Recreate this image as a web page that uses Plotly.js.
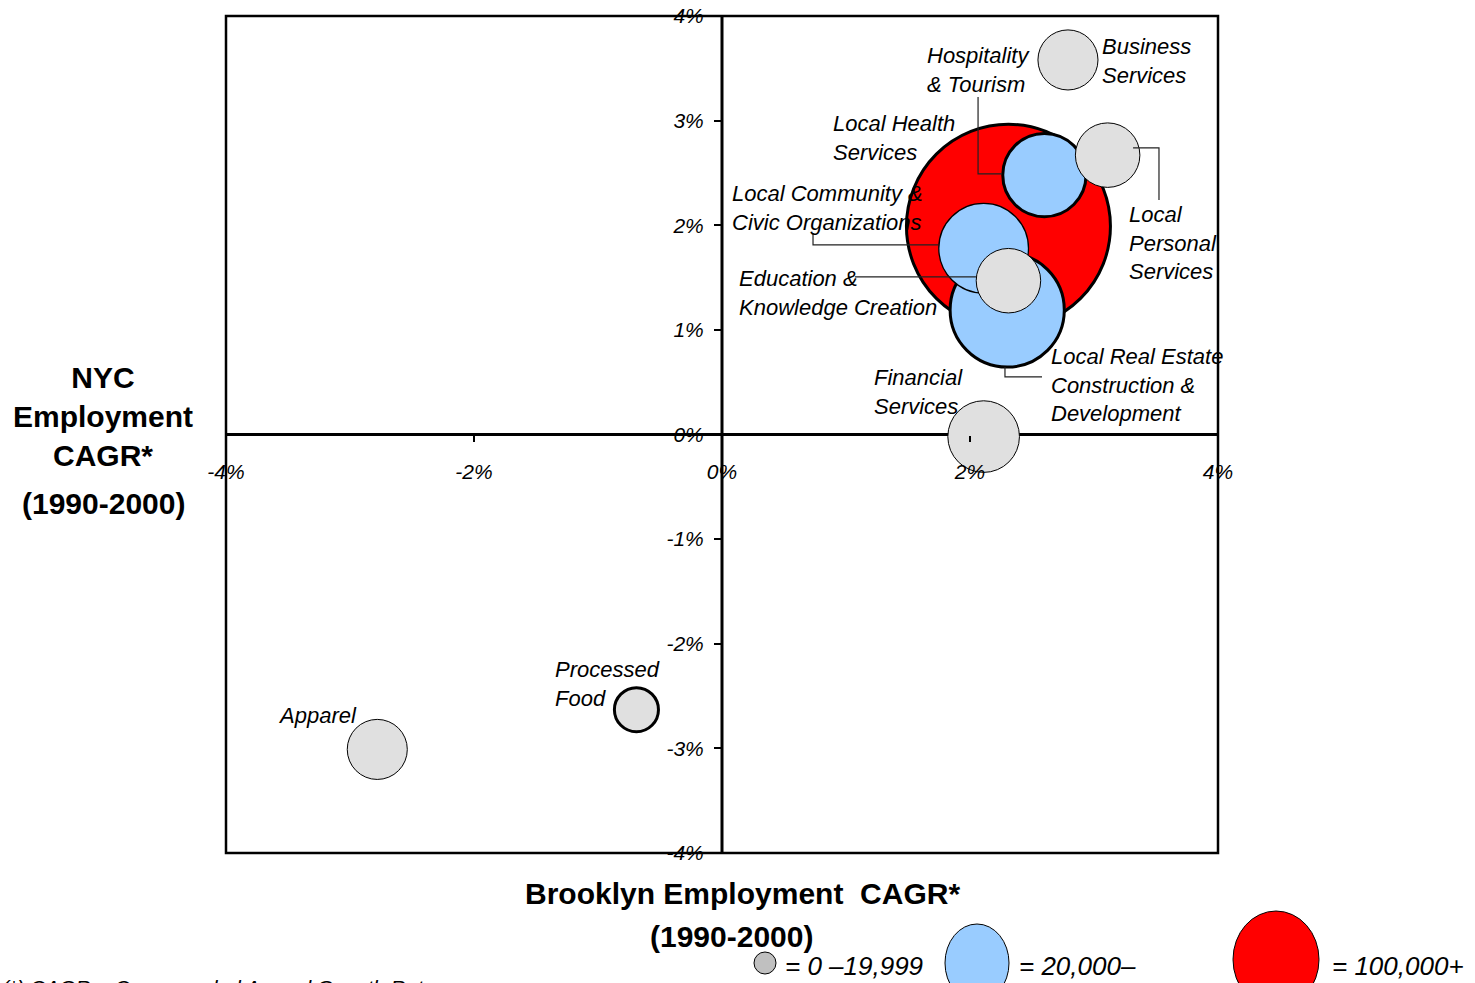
<!DOCTYPE html>
<html>
<head>
<meta charset="utf-8">
<script src="https://cdn.plot.ly/plotly-3.0.1.min.js"></script>
<style>html,body{margin:0;padding:0;background:#fff}#chart{width:1475px;height:983px}</style>
</head>
<body>
<div id="chart"></div>
<script>
// ---------------- DATA ----------------
// Industry clusters, drawn in stacking order (largest first)
var clusters = [
  'Local Health Services',
  'Local Real Estate, Construction & Development',
  'Local Community & Civic Organizations',
  'Hospitality & Tourism',
  'Business Services',
  'Local Personal Services',
  'Education & Knowledge Creation',
  'Financial Services',
  'Apparel',
  'Processed Food'
];
// Brooklyn employment CAGR 1990-2000 (%)
var brooklynCagr = [2.31, 2.30, 2.11, 2.60, 2.79, 3.11, 2.31, 2.11, -2.78, -0.69];
// NYC employment CAGR 1990-2000 (%)
var nycCagr      = [1.99, 1.19, 1.78, 2.48, 3.58, 2.67, 1.47, -0.02, -3.01, -2.63];
// Brooklyn employment
var employment   = [150000, 47000, 29000, 25000, 13000, 15000, 15000, 18500, 13000, 7000];

// Label text for each cluster
var labelText = [
  'Local Health<br>Services',
  'Local Real Estate<br>Construction &<br>Development',
  'Local Community &<br>Civic Organizations',
  'Hospitality<br>& Tourism',
  'Business<br>Services',
  'Local<br>Personal<br>Services',
  'Education &<br>Knowledge Creation',
  'Financial<br>Services',
  'Apparel',
  'Processed<br>Food'
];

// Axis ticks
var tickValues = [-4, -3, -2, -1, 0, 1, 2, 3, 4];
var yTickText  = ['-4%', '-3%', '-2%', '-1%', '0%', '1%', '2%', '3%', '4%'];
var xTickValues = [-4, -2, 0, 2, 4];
var xTickText   = ['-4%', '-2%', '0%', '2%', '4%'];

// Size classes (legend)
var sizeClassLabels = ['= 0 \u201319,999', '= 20,000\u2013', '= 100,000+'];

// ---------------- STYLE ----------------
var GRAY = '#E0E0E0', BLUE = '#99CCFF', RED = '#FF0000';
function classColor(e){ return e >= 100000 ? RED : (e >= 20000 ? BLUE : GRAY); }
var outlineWidth = [3, 3, 1.3, 3, 1, 1, 1, 1, 1, 3];

// label anchor positions (data space, left edge / vertical middle)
var labelPos = [
  [0.887, 2.83], [2.645, 0.473], [0.073, 2.161], [1.645, 3.48], [3.056, 3.571],
  [3.274, 1.831], [0.129, 1.353], [1.218, 0.402], [-3.589, -2.682], [-1.355, -2.385]
];
// leader lines (data space polylines)
var leaders = [
  [[2.065, 3.227], [2.065, 2.491], [2.258, 2.491]],
  [[3.315, 2.739], [3.524, 2.739], [3.524, 2.242]],
  [[0.734, 1.926], [0.734, 1.812], [1.742, 1.812]],
  [[1.072, 1.506], [2.048, 1.506]],
  [[2.282, 0.645], [2.282, 0.550], [2.581, 0.550]]
];

// plot area in pixels
var L = 226, R = 1218, T = 16, B = 853;
function px(x){ return (x - L) / (R - L); }
function py(y){ return (B - y) / (B - T); }

var FONT = 'Liberation Sans, Arial, Helvetica, sans-serif';

var trace = {
  type: 'scatter',
  mode: 'markers',
  x: brooklynCagr,
  y: nycCagr,
  text: clusters,
  hoverinfo: 'text',
  marker: {
    size: employment,
    sizemode: 'area',
    sizeref: 7.209,
    color: employment.map(classColor),
    opacity: 1,
    line: { color: '#000', width: outlineWidth }
  }
};

var annotations = [];
labelText.forEach(function(t, i){
  annotations.push({
    xref: 'x', yref: 'y', x: labelPos[i][0], y: labelPos[i][1],
    xanchor: 'left', yanchor: 'middle', align: 'left',
    text: t, showarrow: false, borderpad: 0,
    font: { family: FONT, size: 22, color: '#000', style: 'italic' }
  });
});

// axis titles
var titleFont = { family: FONT, size: 30, color: '#000' };
annotations.push({
  xref: 'paper', yref: 'paper', x: px(103), y: py(416), xanchor: 'center', yanchor: 'middle',
  text: '<b>NYC<br>Employment<br>CAGR*</b>', showarrow: false, font: titleFont
});
annotations.push({
  xref: 'paper', yref: 'paper', x: px(103), y: py(503), xanchor: 'center', yanchor: 'middle',
  text: '<b>(1990-2000)</b>', showarrow: false, font: titleFont
});
annotations.push({
  xref: 'paper', yref: 'paper', x: px(742), y: py(893), xanchor: 'center', yanchor: 'middle',
  text: '<b>Brooklyn Employment \u00a0CAGR*</b>', showarrow: false, font: titleFont
});
annotations.push({
  xref: 'paper', yref: 'paper', x: px(731), y: py(936), xanchor: 'center', yanchor: 'middle',
  text: '<b>(1990-2000)</b>', showarrow: false, font: titleFont
});
// footnote (partly cut off at bottom, as in the source)
annotations.push({
  xref: 'paper', yref: 'paper', x: px(0), y: py(987), xanchor: 'left', yanchor: 'middle',
  text: '(*) CAGR = Compounded Annual Growth Rate', showarrow: false,
  font: { family: FONT, size: 21, color: '#000', style: 'italic' }
});
// legend texts
var legendTextX = [784, 1018, 1331];
sizeClassLabels.forEach(function(t, i){
  annotations.push({
    xref: 'paper', yref: 'paper', x: px(legendTextX[i]), y: py(966), xanchor: 'left', yanchor: 'middle',
    text: t, showarrow: false, borderpad: 0,
    font: { family: FONT, size: 26, color: '#000', style: 'italic' }
  });
});

var shapes = [];
// zero axes lines (below bubbles)
shapes.push({ type: 'line', xref: 'x', yref: 'paper', x0: 0, x1: 0, y0: 0, y1: 1, layer: 'below',
  line: { color: '#000', width: 3 } });
shapes.push({ type: 'line', xref: 'paper', yref: 'y', x0: 0, x1: 1, y0: 0, y1: 0, layer: 'below',
  line: { color: '#000', width: 3 } });
// frame
shapes.push({ type: 'rect', xref: 'paper', yref: 'paper', x0: 0, x1: 1, y0: 0, y1: 1, layer: 'above',
  line: { color: '#000', width: 2.5 }, fillcolor: 'rgba(0,0,0,0)' });
// leader lines
leaders.forEach(function(pts){
  var d = pts.map(function(p, j){ return (j ? 'L' : 'M') + p[0] + ',' + p[1]; }).join(' ');
  shapes.push({ type: 'path', xref: 'x', yref: 'y', path: d, layer: 'above',
    line: { color: '#222', width: 1.2 } });
});
// legend symbols
shapes.push({ type: 'circle', xref: 'paper', yref: 'paper', x0: px(754), x1: px(776), y0: py(974), y1: py(952),
  fillcolor: '#C0C0C0', line: { color: '#000', width: 1 } });
shapes.push({ type: 'circle', xref: 'paper', yref: 'paper', x0: px(945), x1: px(1009), y0: py(1002), y1: py(924),
  fillcolor: BLUE, line: { color: '#000', width: 1 } });
shapes.push({ type: 'circle', xref: 'paper', yref: 'paper', x0: px(1233), x1: px(1319), y0: py(1008), y1: py(911),
  fillcolor: RED, line: { color: '#000', width: 1 } });

var tickFont = { family: FONT, size: 21, color: '#000', style: 'italic' };

var layout = {
  width: 1475, height: 983,
  margin: { l: L, r: 1475 - R, t: T, b: 983 - B, pad: 0 },
  paper_bgcolor: '#fff', plot_bgcolor: '#fff',
  showlegend: false,
  font: { family: FONT },
  xaxis: {
    range: [-4, 4], anchor: 'free', position: 0.5,
    showline: false, showgrid: false, zeroline: false,
    tickmode: 'array', tickvals: xTickValues, ticktext: xTickText,
    ticks: 'outside', ticklen: 6, tickwidth: 2, tickcolor: '#000',
    ticklabelstandoff: 12,
    tickfont: tickFont, fixedrange: true
  },
  yaxis: {
    range: [-4, 4], anchor: 'free', position: 0.5,
    showline: false, showgrid: false, zeroline: false,
    tickmode: 'array', tickvals: tickValues, ticktext: yTickText,
    ticks: 'outside', ticklen: 8, tickwidth: 2, tickcolor: '#000',
    ticklabelstandoff: 6,
    tickfont: tickFont, fixedrange: true
  },
  annotations: annotations,
  shapes: shapes
};

Plotly.newPlot('chart', [trace], layout, { staticPlot: true, displayModeBar: false });
</script>
</body>
</html>
